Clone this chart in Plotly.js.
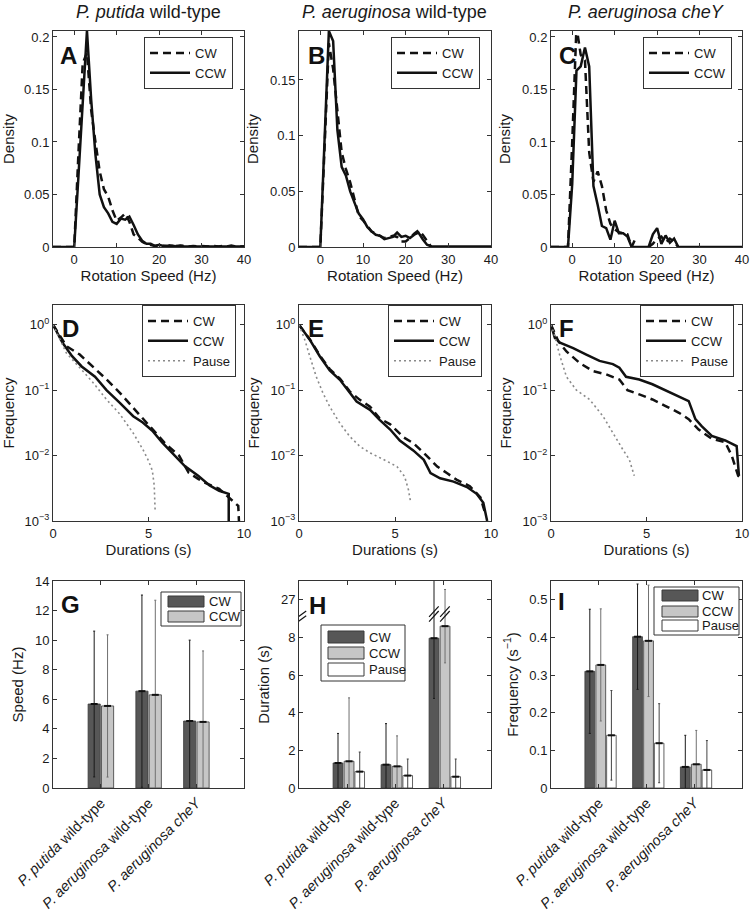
<!DOCTYPE html>
<html>
<head>
<meta charset="utf-8">
<script src="https://cdn.plot.ly/plotly-3.0.1.min.js"></script>
<style>html,body{margin:0;padding:0;background:#fff}#chart{width:750px;height:913px}</style>
</head>
<body>
<div id="chart"></div>
<script>
// ---------------- DATA ----------------
const panelTitles = ['<i>P. putida</i> wild-type', '<i>P. aeruginosa</i> wild-type', '<i>P. aeruginosa cheY</i>'];
const groupLabels = ['<i>P. putida</i> wild-type', '<i>P. aeruginosa</i> wild-type', '<i>P. aeruginosa cheY</i>'];
const groupPos = [1, 2, 3];

// Row 1: rotation speed densities
const A_x = [-5,-4,-3,-2,-1,0,1,2,3,4,5,6,7,8,9,10,11,12,13,14,15,16,17,18,19,20,21,22,23,24,25,26,27,28,29,30,31,32,33,34,35,36,37,38,39,40];
const A_cw = [0,0,0,0,0,0,0.09,0.175,0.185,0.13,0.1,0.072,0.055,0.048,0.035,0.025,0.028,0.032,0.024,0.012,0.009,0.005,0.003,0.002,0.001,0.0015,0.001,0.001,0.002,0.001,0.0015,0.001,0.0005,0.001,0.0005,0.001,0.0005,0.0005,0.001,0.0005,0.001,0.0005,0.0005,0.0005,0.0005,0.0005];
const A_ccw = [0,0,0,0,0,0,0.068,0.137,0.206,0.14,0.088,0.05,0.038,0.032,0.024,0.022,0.027,0.026,0.029,0.021,0.012,0.006,0.003,0.003,0.001,0.002,0.001,0.001,0.0015,0.0005,0.001,0.0005,0.0005,0.001,0.0005,0.0005,0.0005,0.0005,0.001,0.0005,0.0005,0.0005,0.0015,0.0005,0.0005,0.0005];

const B_cw_x = [-5,-4,-3,-2,-1,0,1,2,3,4,5,6,7,8,9,10,11,12,13,14,15,16,17,18,19,20,21,22,23,24,25,26];
const B_cw = [0,0,0,0,0,0,0.09,0.183,0.16,0.12,0.085,0.07,0.058,0.043,0.028,0.024,0.019,0.014,0.012,0.01,0.008,0.009,0.01,0.009,0.005,0.005,0.008,0.012,0.015,0.011,0.006,0];
const B_ccw_x = [-5,-4,-3,-2,-1,0,1,2,3,4,5,6,7,8,9,10,11,12,13,14,15,16,17,18,19,20,21,22,23,24,25,26,27,28,29,30,31,32,33,34,35,36,37,38,39,40];
const B_ccw = [0,0,0,0,0,0,0.097,0.194,0.185,0.105,0.072,0.064,0.05,0.04,0.03,0.025,0.018,0.014,0.011,0.01,0.007,0.008,0.009,0.013,0.009,0.01,0.008,0.011,0.013,0.007,0.002,0.0005,0.0005,0.001,0.0005,0.0005,0.0005,0.001,0.0005,0.0005,0.001,0.001,0.0005,0.0005,0.0005,0.0005];

const C_cw_x = [-5,-4,-3,-2,-1,0,1,2,3,4,5,6,7,8,9,10,11,12,13,14,15,16,17,18,19,20,21,22,23,24,25];
const C_cw = [0,0,0,0,0,0.1,0.21,0.183,0.178,0.09,0.062,0.072,0.058,0.035,0.022,0.017,0.014,0.013,0.012,0,0.009,null,null,0,0.003,0.008,0.01,0.004,0.008,0.005,0];
const C_ccw_x = [-5,-4,-3,-2,-1,0,1,2,3,4,5,6,7,8,9,10,11,12,13,14,15,16,17,18,19,20,21,22,23,24,25,26,27,28,29,30,31,32,33,34,35,36,37,38,39,40];
const C_ccw = [0,0,0,0,0,0.06,0.168,0.172,0.19,0.172,0.058,0.04,0.02,0.018,0.007,0.025,0.013,0.013,0.01,0,0,0,0,0,0.012,0.018,0.003,0.011,0.004,0.008,0,0,0,0,0,0,0,0,0,0,0,0,0,0,0,0];

// Row 2: duration survival curves
const D_cw_x = [0,0.7,1.4,2.1,2.8,3.5,4.2,4.7,5.2,5.9,6.6,7.1,7.6,8.0,8.7,9.3,9.7,9.75];
const D_cw = [1,0.47,0.35,0.23,0.146,0.091,0.054,0.036,0.025,0.015,0.01,0.0055,0.0044,0.0038,0.0031,0.0022,0.0017,0.0008];
const D_ccw_x = [0,0.5,1.0,1.5,2.2,2.8,3.5,4.2,4.7,5.2,5.7,6.25,6.9,7.6,8.2,8.7,9.2,9.2];
const D_ccw = [1,0.53,0.33,0.23,0.16,0.1,0.064,0.04,0.032,0.024,0.016,0.011,0.0069,0.0049,0.0035,0.0029,0.0026,0.0008];
const D_pause_x = [0,0.7,1.4,2.1,2.8,3.5,4.2,4.7,5.0,5.2,5.3,5.35];
const D_pause = [1,0.37,0.22,0.13,0.072,0.043,0.022,0.0125,0.0083,0.0059,0.0035,0.00135];

const E_cw_x = [0,0.56,1.08,1.6,2.13,2.65,3.17,3.7,4.2,4.75,5.45,5.95,6.5,7.2,7.7,8.2,8.9,9.45,9.7];
const E_cw = [1,0.6,0.34,0.21,0.15,0.095,0.071,0.056,0.037,0.03,0.019,0.0155,0.011,0.0068,0.0054,0.0043,0.0034,0.0023,0.0013];
const E_ccw_x = [0,0.56,1.08,1.6,2.13,2.65,3.0,3.7,4.2,4.75,5.25,5.95,6.5,6.85,7.35,8.05,8.75,9.25,9.6,9.8];
const E_ccw = [1,0.59,0.33,0.2,0.144,0.09,0.067,0.05,0.035,0.025,0.017,0.012,0.0086,0.0054,0.0045,0.004,0.0033,0.0026,0.0019,0.001];
const E_pause_x = [0,0.3,0.56,0.9,1.25,1.6,2.13,2.65,3.17,3.7,4.4,5.1,5.5,5.7,5.82];
const E_pause = [1,0.59,0.33,0.16,0.09,0.056,0.031,0.0195,0.0138,0.011,0.0087,0.0068,0.0048,0.003,0.0019];

const F_cw_x = [0,0.38,0.81,1.5,2.2,2.89,3.58,4.0,4.62,5.31,6.0,6.7,7.21,7.73,8.42,9.12,9.46,9.8,9.95];
const F_cw = [1,0.56,0.39,0.26,0.195,0.174,0.145,0.1,0.086,0.072,0.057,0.045,0.036,0.025,0.018,0.016,0.01,0.0049,0.0045];
const F_ccw_x = [0,0.2,0.47,1.16,1.85,2.54,3.24,3.58,3.93,4.62,5.31,6.0,6.7,7.21,7.56,7.9,8.42,9.12,9.72,9.84];
const F_ccw = [1,0.63,0.53,0.44,0.35,0.28,0.25,0.22,0.16,0.145,0.123,0.1,0.081,0.068,0.036,0.028,0.02,0.017,0.014,0.0049];
const F_pause_x = [0,0.2,0.47,0.81,1.33,2.02,2.72,3.24,3.75,4.1,4.36];
const F_pause = [1,0.66,0.33,0.16,0.1,0.072,0.04,0.022,0.0125,0.0087,0.0049];

// Row 3: bar summaries (mean and error)
const speed_cw = [5.68, 6.55, 4.53];
const speed_cw_err = [4.93, 6.5, 5.47];
const speed_ccw = [5.55, 6.3, 4.47];
const speed_ccw_err = [4.81, 6.4, 4.8];

// Duration axis is broken above 8 (tick "27" sits at position 10); cheY CW/CCW errors given in axis units
const dur_cw = [1.33, 1.24, 7.96];
const dur_cw_err = [1.57, 2.18, 3.2];
const dur_ccw = [1.42, 1.15, 8.6];
const dur_ccw_err = [3.37, 1.62, 1.95];
const dur_pause = [0.87, 0.66, 0.6];
const dur_pause_err = [1.04, 0.88, 0.94];

const freq_cw = [0.31, 0.402, 0.056];
const freq_cw_err = [0.165, 0.14, 0.084];
const freq_ccw = [0.327, 0.391, 0.063];
const freq_ccw_err = [0.149, 0.148, 0.09];
const freq_pause = [0.14, 0.119, 0.048];
const freq_pause_err = [0.119, 0.105, 0.078];

const durTickVals = [0, 2, 4, 6, 8, 10];
const durTickText = ['0', '2', '4', '6', '8', '27'];

// ---------------- STYLE / LAYOUT ----------------
const W = 750, H = 913;
const fx = p => p / W;
const fy = p => 1 - p / H;
const FONT = 'Liberation Sans, Arial, Helvetica, sans-serif';
const INK = '#1a1a1a';
const AX = '#333333';
const cols = [[53, 244], [299, 491], [551, 742]];
const rows = [[31, 247], [305, 521], [581, 788]];

const CW_DASH = '8px,5px';
const PAUSE_DASH = '2px,3px';

function line(x, y, n, kind, legendName, show) {
  const st = kind === 'cw' ? {color: '#111', width: 2.5, dash: CW_DASH}
           : kind === 'ccw' ? {color: '#111', width: 2.5}
           : {color: '#8a8a8a', width: 1.6, dash: PAUSE_DASH};
  return {
    type: 'scatter', mode: 'lines', x: x, y: y,
    xaxis: 'x' + (n === 1 ? '' : n), yaxis: 'y' + (n === 1 ? '' : n),
    line: st, name: kind === 'cw' ? 'CW' : kind === 'ccw' ? 'CCW' : 'Pause',
    legend: legendName, showlegend: show, hoverinfo: 'skip', connectgaps: false
  };
}

const traces = [];
traces.push(line(A_x, A_cw, 1, 'cw', 'legend', true));
traces.push(line(A_x, A_ccw, 1, 'ccw', 'legend', true));
traces.push(line(B_cw_x, B_cw, 2, 'cw', 'legend2', true));
traces.push(line(B_ccw_x, B_ccw, 2, 'ccw', 'legend2', true));
traces.push(line(C_cw_x, C_cw, 3, 'cw', 'legend3', true));
traces.push(line(C_ccw_x, C_ccw, 3, 'ccw', 'legend3', true));
traces.push(line(D_cw_x, D_cw, 4, 'cw', 'legend4', true));
traces.push(line(D_ccw_x, D_ccw, 4, 'ccw', 'legend4', true));
traces.push(line(D_pause_x, D_pause, 4, 'pause', 'legend4', true));
traces.push(line(E_cw_x, E_cw, 5, 'cw', 'legend5', true));
traces.push(line(E_ccw_x, E_ccw, 5, 'ccw', 'legend5', true));
traces.push(line(E_pause_x, E_pause, 5, 'pause', 'legend5', true));
traces.push(line(F_cw_x, F_cw, 6, 'cw', 'legend6', true));
traces.push(line(F_ccw_x, F_ccw, 6, 'ccw', 'legend6', true));
traces.push(line(F_pause_x, F_pause, 6, 'pause', 'legend6', true));

const barStyle = {
  cw:    {fill: '#575757', err: '#1a1a1a'},
  ccw:   {fill: '#c6c6c6', err: '#707070'},
  pause: {fill: '#ffffff', err: '#444444'}
};
function bar(y, err, n, kind, offset, width) {
  return {
    type: 'bar', x: groupPos, y: y, xaxis: 'x' + n, yaxis: 'y' + n,
    offset: offset, width: width, name: kind, showlegend: false, hoverinfo: 'skip',
    marker: {color: barStyle[kind].fill, line: {color: '#3a3a3a', width: 0.8}},
    error_y: {type: 'data', array: err, visible: true, color: barStyle[kind].err, thickness: 1, width: 1}
  };
}
// small dark mean marks at the top of each bar (errorbar centre points)
function meanMark(y, n, offset, width) {
  return {
    type: 'scatter', mode: 'markers', x: groupPos.map(g => g + offset + width / 2), y: y,
    xaxis: 'x' + n, yaxis: 'y' + n, showlegend: false, hoverinfo: 'skip', cliponaxis: true,
    marker: {symbol: 'line-ew', size: 5, line: {color: '#111', width: 2}}
  };
}
const barSpec = [
  [speed_cw, speed_cw_err, 7, 'cw', -0.265, 0.255],
  [speed_ccw, speed_ccw_err, 7, 'ccw', 0.015, 0.255],
  [dur_cw, dur_cw_err, 8, 'cw', -0.29, 0.205],
  [dur_ccw, dur_ccw_err, 8, 'ccw', -0.06, 0.205],
  [dur_pause, dur_pause_err, 8, 'pause', 0.165, 0.2],
  [freq_cw, freq_cw_err, 9, 'cw', -0.29, 0.205],
  [freq_ccw, freq_ccw_err, 9, 'ccw', -0.06, 0.205],
  [freq_pause, freq_pause_err, 9, 'pause', 0.165, 0.2]
];
barSpec.forEach(s => traces.push(bar(s[0], s[1], s[2], s[3], s[4], s[5])));
barSpec.forEach(s => traces.push(meanMark(s[0], s[2], s[4], s[5])));

const baseAxis = {
  showline: true, linecolor: AX, linewidth: 1, mirror: 'ticks',
  ticks: 'inside', ticklen: 4, tickwidth: 1, tickcolor: AX,
  showgrid: false, zeroline: false, fixedrange: true, automargin: false,
  tickfont: {family: FONT, size: 13, color: INK}
};
function axisTitle(t, standoff) {
  return {text: t, font: {family: FONT, size: 15, color: INK}, standoff: standoff};
}

const layout = {
  width: W, height: H,
  margin: {l: 0, r: 0, t: 0, b: 0},
  paper_bgcolor: '#fff', plot_bgcolor: '#fff',
  font: {family: FONT, color: INK},
  barmode: 'overlay',
  showlegend: true,
  annotations: [], shapes: []
};

const yRanges1 = [[0, 0.2057], [0, 0.194], [0, 0.2057]];
for (let i = 0; i < 9; i++) {
  const n = i + 1, r = Math.floor(i / 3), c = i % 3;
  const xa = Object.assign({}, baseAxis, {
    domain: [fx(cols[c][0]), fx(cols[c][1])], anchor: 'y' + (n === 1 ? '' : n)
  });
  const ya = Object.assign({}, baseAxis, {
    domain: [fy(rows[r][1]), fy(rows[r][0])], anchor: 'x' + (n === 1 ? '' : n)
  });
  if (r === 0) {
    xa.range = [-5, 40]; xa.tickvals = [0, 10, 20, 30, 40];
    xa.title = axisTitle('Rotation Speed (Hz)', 4);
    ya.range = yRanges1[c]; ya.tickvals = [0, 0.05, 0.1, 0.15, 0.2]; ya.ticktext = ['0', '0.05', '0.1', '0.15', '0.2'];
    ya.title = axisTitle('Density', 7);
  } else if (r === 1) {
    xa.range = [0, 10]; xa.tickvals = [0, 5, 10];
    xa.title = axisTitle('Durations (s)', 3);
    ya.type = 'log'; ya.range = [-3, 0.301];
    ya.tickvals = [0.001, 0.01, 0.1, 1];
    ya.ticktext = ['10<sup>−3</sup>', '10<sup>−2</sup>', '10<sup>−1</sup>', '10<sup>0</sup>'];
    ya.title = axisTitle('Frequency', 7);
  } else {
    xa.range = [0, 4]; xa.tickvals = groupPos; xa.ticktext = groupLabels;
    xa.tickangle = -45; xa.tickfont = {family: FONT, size: 14.5, color: INK};
    if (c === 0) {
      ya.range = [0, 14]; ya.tickvals = [0, 2, 4, 6, 8, 10, 12, 14];
      ya.title = axisTitle('Speed (Hz)', 7);
    } else if (c === 1) {
      ya.range = [0, 11]; ya.tickvals = durTickVals; ya.ticktext = durTickText;
      ya.title = axisTitle('Duration (s)', 7);
    } else {
      ya.range = [0, 0.55]; ya.tickvals = [0, 0.1, 0.2, 0.3, 0.4, 0.5];
      ya.ticktext = ['0', '0.1', '0.2', '0.3', '0.4', '0.5'];
      ya.title = axisTitle('Frequency (s<sup>−1</sup>)', 7);
    }
  }
  layout['xaxis' + (n === 1 ? '' : n)] = xa;
  layout['yaxis' + (n === 1 ? '' : n)] = ya;
}

// Line legends
const legBoxes = [
  [144, 37], [391, 37], [643, 37],
  [142, 305], [388, 305], [640, 305]
];
legBoxes.forEach((b, i) => {
  layout['legend' + (i === 0 ? '' : i + 1)] = {
    x: fx(b[0]), y: fy(b[1]), xanchor: 'left', yanchor: 'top',
    bgcolor: '#fff', bordercolor: AX, borderwidth: 1,
    font: {family: FONT, size: 13, color: INK},
    itemwidth: 40, tracegroupgap: 0, traceorder: 'normal'
  };
});

// Column titles
panelTitles.forEach((t, c) => {
  layout.annotations.push({
    xref: 'paper', yref: 'paper', x: fx((cols[c][0] + cols[c][1]) / 2), y: fy(12),
    xanchor: 'center', yanchor: 'middle', showarrow: false, text: t,
    font: {family: FONT, size: 18, color: INK}
  });
});

// Panel letters
const letters = ['A', 'B', 'C', 'D', 'E', 'F', 'G', 'H', 'I'];
const letterPos = [[58, 40], [306, 40], [557, 40], [60, 313], [306, 313], [557, 313], [59, 589], [307, 590], [556, 586]];
letters.forEach((L, i) => {
  layout.annotations.push({
    xref: 'paper', yref: 'paper', x: fx(letterPos[i][0]), y: fy(letterPos[i][1]),
    xanchor: 'left', yanchor: 'top', showarrow: false, text: '<b>' + L + '</b>',
    font: {family: FONT, size: 24, color: '#111'}
  });
});

// Manual bar legends (wide swatches)
function barLegend(box, sw, items, textX) {
  layout.shapes.push({type: 'rect', xref: 'paper', yref: 'paper',
    x0: fx(box[0]), x1: fx(box[1]), y0: fy(box[3]), y1: fy(box[2]),
    line: {color: AX, width: 1}, fillcolor: '#fff'});
  items.forEach(it => {
    layout.shapes.push({type: 'rect', xref: 'paper', yref: 'paper',
      x0: fx(sw[0]), x1: fx(sw[1]), y0: fy(it.y1), y1: fy(it.y0),
      line: {color: '#3a3a3a', width: 1}, fillcolor: barStyle[it.k].fill});
    layout.annotations.push({xref: 'paper', yref: 'paper', x: fx(textX), y: fy((it.y0 + it.y1) / 2),
      xanchor: 'left', yanchor: 'middle', showarrow: false, text: it.t,
      font: {family: FONT, size: 13, color: INK}});
  });
}
barLegend([161, 241, 592, 626], [168, 204], [
  {k: 'cw', t: 'CW', y0: 596, y1: 607},
  {k: 'ccw', t: 'CCW', y0: 611, y1: 622}], 207);
barLegend([321, 405, 625, 681], [328, 364], [
  {k: 'cw', t: 'CW', y0: 631, y1: 643},
  {k: 'ccw', t: 'CCW', y0: 647, y1: 659},
  {k: 'pause', t: 'Pause', y0: 663, y1: 676}], 367);
barLegend([654, 739, 587, 635], [662, 698], [
  {k: 'cw', t: 'CW', y0: 590, y1: 601},
  {k: 'ccw', t: 'CCW', y0: 606, y1: 617},
  {k: 'pause', t: 'Pause', y0: 620, y1: 631}], 700);

// Axis-break marks on the Duration panel
function breakMark(xc, yc, dx, dy, gap) {
  [-gap / 2, gap / 2].forEach(o => {
    layout.shapes.push({type: 'line', xref: 'x8', yref: 'y8',
      x0: xc - dx, x1: xc + dx, y0: yc + o - dy, y1: yc + o + dy,
      line: {color: '#111', width: 1.2}});
  });
}
breakMark(0, 9.0, 0.15, 0.28, 0.25);
breakMark(2.81, 9.25, 0.1, 0.28, 0.25);
breakMark(3.04, 9.25, 0.1, 0.28, 0.25);

Plotly.newPlot('chart', traces, layout, {staticPlot: true, displayModeBar: false});
</script>
</body>
</html>
